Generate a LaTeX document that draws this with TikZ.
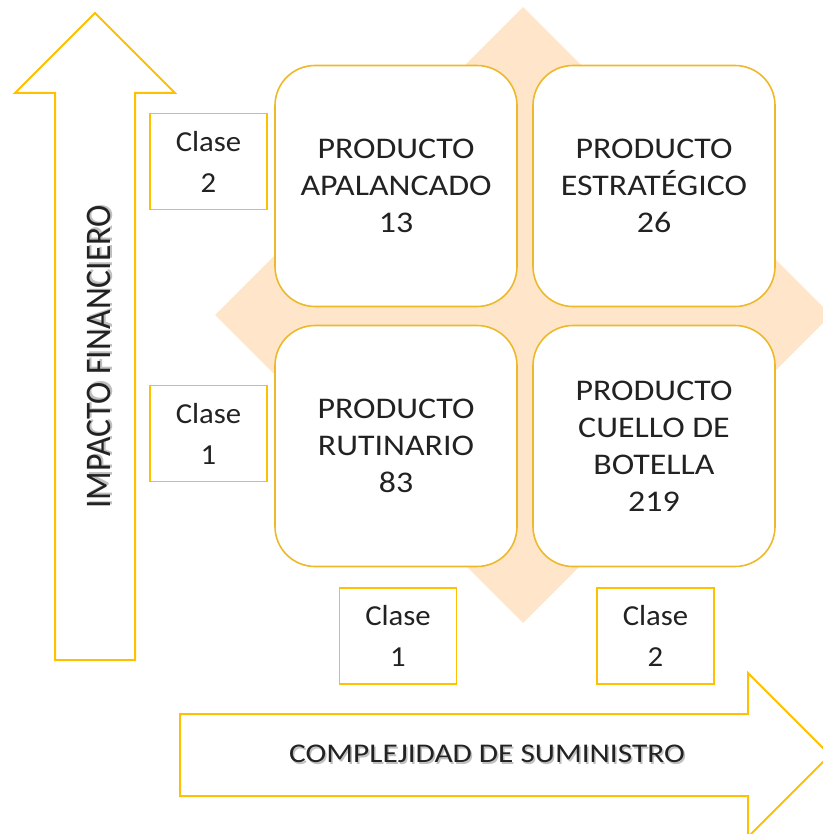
\documentclass[tikz,border=0pt]{standalone}
\usepackage{fontspec}
\setmainfont{Carlito}
\newfontfamily\boxfont{Carlito}[FakeStretch=1.13]
\newfontfamily\clasefont{Carlito}[FakeStretch=1.06]
\newfontfamily\compfont{Carlito}[FakeStretch=1.16]
\newfontfamily\impfont{Carlito}[FakeStretch=0.93]
\definecolor{gold}{HTML}{FFC000}
\definecolor{boxline}{HTML}{EDB92A}
\definecolor{peach}{HTML}{FFE6CB}
\definecolor{txt}{HTML}{222222}
\newcommand{\shadowtext}[1]{\rlap{\hspace{1.5pt}\raisebox{-1.5pt}{\textcolor{black!25}{#1}}}#1}
\begin{document}
\begin{tikzpicture}[x=1pt,y=-1pt,
  quad/.style={draw=boxline,line width=1.6pt,fill=white,rounded corners=40pt,
    minimum width=242pt,minimum height=241pt,align=center,text=txt,
    font=\boxfont\fontsize{30}{37}\selectfont,inner sep=0pt},
  clase/.style={draw=gold,line width=1.6pt,fill=white,minimum width=117pt,
    minimum height=96pt,align=center,text=txt,
    font=\clasefont\fontsize{29}{41}\selectfont,inner sep=0pt},
  arrowshape/.style={draw=gold,line width=2pt,fill=white,line join=miter},
  axislabel/.style={text=txt,inner sep=0pt}]
\useasboundingbox (0,0) rectangle (822,834);
% diamond background
\fill[peach] (523,7) -- (831,315) -- (523,623) -- (215,315) -- cycle;
% up arrow
\draw[arrowshape] (95,13) -- (175,93) -- (135,93) -- (135,660) -- (55,660) -- (55,93) -- (15,93) -- cycle;
% right arrow
\draw[arrowshape] (180,714) -- (748,714) -- (748,673) -- (830,755) -- (748,837) -- (748,796) -- (180,796) -- cycle;
% axis labels
\node[axislabel,rotate=90,font=\impfont\fontsize{36}{40}\selectfont] (imp) at (100,357) {\shadowtext{IMPACTO FINANCIERO}};
\node[axislabel,font=\compfont\fontsize{27}{32}\selectfont] (comp) at (487,755) {\shadowtext{COMPLEJIDAD DE SUMINISTRO}};
% quadrants
\node[quad] (apal) at (396,186) {PRODUCTO\\APALANCADO\\13};
\node[quad] (estr) at (654,186) {PRODUCTO\\ESTRATÉGICO\\26};
\node[quad] (rut) at (396,446) {PRODUCTO\\RUTINARIO\\83};
\node[quad] (cuel) at (654,446) {PRODUCTO\\CUELLO DE\\BOTELLA\\219};
% class boxes
\node[clase] (l2) at (208.5,161.5) {Clase\\2};
\node[clase] (l1) at (208.5,433.5) {Clase\\1};
\node[clase] (b1) at (398,636) {Clase\\1};
\node[clase] (b2) at (655.5,636) {Clase\\2};
\end{tikzpicture}
\end{document}
